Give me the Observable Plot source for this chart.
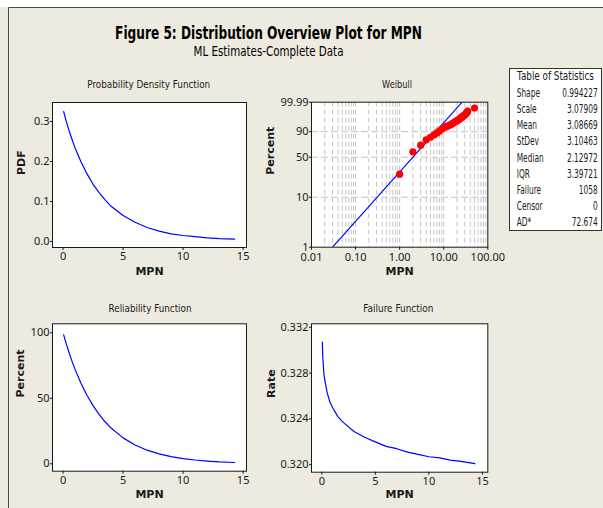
<!DOCTYPE html>
<html><head><meta charset="utf-8">
<script src="https://cdn.jsdelivr.net/npm/d3@7"></script>
<script src="https://cdn.jsdelivr.net/npm/@observablehq/plot@0.6"></script>
<style>
html,body{margin:0;padding:0;background:#fff;}
#wrap{position:relative;width:603px;height:508px;overflow:hidden;background:#EDEAE0;}
#wrap svg{position:absolute;}
</style></head><body><div id="wrap"></div>
<script>
// ---------- data ----------
const mpnGrid = [0.05,0.25,0.5,0.75,1,1.5,2,2.5,3,3.5,4,5,6,7,8,9,10,11,12,13,14.3];
const pdfValues = [0.325,0.302,0.277,0.255,0.234,0.199,0.169,0.143,0.122,0.104,0.088,0.065,0.048,0.035,0.026,0.019,0.015,0.012,0.009,0.007,0.006];
const reliabilityValues = [98.4,92.1,84.9,78.2,72.1,61.3,52.1,44.4,37.7,32.1,27.3,19.8,14.4,10.4,7.6,5.5,4.0,2.9,2.1,1.5,1.0];
const failureMPN = [0.05,0.1,0.2,0.3,0.5,0.75,1,1.5,2,3,4,5,6,7,8,9,10,11,12,13,14.3];
const failureRate = [0.3307,0.3293,0.3279,0.3273,0.3263,0.3255,0.3250,0.3242,0.3237,0.3229,0.3224,0.3220,0.3216,0.3214,0.3211,0.3209,0.3207,0.3206,0.3204,0.3203,0.3201];
const weibullMPN = [1,2,3,4,5,6,7,8,9,10,11,12,13,14,15,16,17,18,19,20,21,22,23,24,25,26,27,28,29,30,31,32,33,34,35,50];
const weibullPercent = [26.8,59.1,70.4,79.1,83.0,86.2,88.6,90.8,92.4,93.9,94.4,94.9,95.4,95.8,96.3,96.7,97.1,97.4,97.7,97.9,98.1,98.3,98.5,98.7,98.85,99.01,99.1,99.2,99.3,99.37,99.45,99.55,99.62,99.7,99.76,99.91];
const fitLineMPN = [0.03, 26.1];
const fitLinePercent = [1, 99.99];
const weibullTicks = [1, 10, 50, 90, 99.99];
const weibullTickLabels = ["1","10","50","90","99.99"];
const weibullXTicks = [0.01, 0.1, 1, 10, 100];
const weibullGridPercent = [10, 50, 90];
const pdfTicks = [0, 0.1, 0.2, 0.3];
const reliabilityTicks = [0, 50, 100];
const rateTicks = [0.320, 0.324, 0.328, 0.332];
const mpnTicks = [0, 5, 10, 15];
const statLabels = ["Shape","Scale","Mean","StDev","Median","IQR","Failure","Censor","AD*"];
const statValues = ["0.994227","3.07909","3.08669","3.10463","2.12972","3.39721","1058","0","72.674"];

const title = "Figure 5: Distribution Overview Plot for MPN";
const subtitle = "ML Estimates-Complete Data";
const panelTitles = ["Probability Density Function","Weibull","Reliability Function","Failure Function"];

// ---------- tables ----------
const pdfData = mpnGrid.map((x,i)=>({x, y: pdfValues[i]}));
const relData = mpnGrid.map((x,i)=>({x, y: reliabilityValues[i]}));
const failData = failureMPN.map((x,i)=>({x, y: failureRate[i]}));
const wb = p => Math.log(-Math.log(1 - p/100));
const wbPoints = weibullMPN.map((x,i)=>({x, y: wb(weibullPercent[i])}));
const wbLine = fitLineMPN.map((x,i)=>({x, y: wb(fitLinePercent[i])}));
const gridX = [];
for (const e of [-2,-1,0,1]) for (let m=1;m<=9;m++) { const v = m*Math.pow(10,e); if (v>0.0100001) gridX.push(v); }

const wrap = document.getElementById("wrap");
const BLUE = "#0000ff", INK = "#1a1a1a";
const baseStyle = {background:"transparent", fontFamily:"'Noto Sans', sans-serif", fontSize:"11px", color:INK, overflow:"visible"};

function place(el, left, top){ el.style.left = left+"px"; el.style.top = top+"px"; wrap.appendChild(el); }
function xLabel(dy){ return Plot.text(["MPN"], {frameAnchor:"bottom", dy, fontWeight:"bold", fontFamily:"DejaVu Sans", fontSize:11, fill:INK}); }
function yLabel(txt, dx){ return Plot.text([txt], {frameAnchor:"left", dx, rotate:-90, fontWeight:"bold", fontFamily:"DejaVu Sans", fontSize:11, fill:INK}); }

// ---------- overlay: border, titles, table ----------
const over = d3.select(wrap).append("svg").attr("width",603).attr("height",508).style("left","0px").style("top","0px");
over.append("rect").attr("width",603).attr("height",7).attr("fill","#fff");
over.append("path").attr("d","M8.5,508V7.5H603").attr("fill","none").attr("stroke","#4a4a4a");

function fitText(str, x, y, opts){
  const t = over.append("text").text(str)
    .attr("text-anchor", opts.anchor || "middle")
    .attr("font-family", opts.family || "DejaVu Sans")
    .attr("font-size", opts.size)
    .attr("font-weight", opts.weight || "normal")
    .attr("fill", opts.fill || INK);
  const w = t.node().getComputedTextLength();
  const s = opts.width ? opts.width / w : (opts.scale || 1);
  t.attr("transform", `translate(${x},${y}) scale(${s},1)`);
  return s;
}
fitText(title, 268.5, 38.5, {size:17.5, weight:"bold", width:307, fill:"#000"});
fitText(subtitle, 268.5, 56, {size:13.5, width:150, fill:"#000"});
fitText(panelTitles[0], 148.7, 87.5, {size:11, width:123});
fitText(panelTitles[1], 397, 87.5, {size:11, width:30});
fitText(panelTitles[2], 150, 311.5, {size:11, width:83});
fitText(panelTitles[3], 398.3, 311.5, {size:11, width:70});

// statistics table
over.append("rect").attr("x",509.5).attr("y",68.5).attr("width",92).attr("height",162).attr("fill","#fff").attr("stroke","#333");
fitText("Table of Statistics", 555.5, 80, {size:11.5, width:77});
const probe = over.append("text").attr("font-family","DejaVu Sans").attr("font-size",11.5).text("Shape");
const sc = 23.3 / probe.node().getComputedTextLength(); probe.remove();
statLabels.forEach((lab,i)=>{
  const y = 96.8 + i*16.2;
  fitText(lab, 516.7, y, {size:11.5, anchor:"start", scale:sc});
  fitText(statValues[i], 597.7, y, {size:11.5, anchor:"end", scale:sc});
});

// ---------- PDF panel ----------
place(Plot.plot({
  width:260, height:230, marginLeft:52, marginRight:14, marginTop:32, marginBottom:53,
  style: baseStyle,
  x:{domain:[-0.88,15.28]}, y:{domain:[-0.015,0.3475]},
  marks:[
    Plot.frame({fill:"white", stroke:"none"}),
    Plot.line(pdfData, {x:"x", y:"y", stroke:BLUE, strokeWidth:1.2}),
    Plot.frame({stroke:INK}),
    Plot.axisX({ticks:mpnTicks, tickSize:3, tickPadding:2, label:null}),
    Plot.axisY({ticks:pdfTicks, tickFormat:".1f", tickSize:2, tickPadding:1, label:null}),
    xLabel(27.5), yLabel("PDF", -31)
  ]
}), 0, 70);

// ---------- Weibull probability plot ----------
place(Plot.plot({
  width:250, height:230, marginLeft:56, marginRight:17.7, marginTop:31.7, marginBottom:53.3,
  style: baseStyle,
  x:{type:"log", domain:[0.01,100]}, y:{domain:[wb(1), wb(99.99)]},
  marks:[
    Plot.frame({fill:"white", stroke:"none"}),
    Plot.ruleX(gridX, {stroke:"#c4c4c4", strokeDasharray:"5,3"}),
    Plot.ruleY(weibullGridPercent.map(wb), {stroke:"#c4c4c4", strokeDasharray:"7,3"}),
    Plot.line(wbLine, {x:"x", y:"y", stroke:BLUE, strokeWidth:1.1, clip:true}),
    Plot.dot(wbPoints, {x:"x", y:"y", r:3.6, fill:"#ff0000", stroke:"none"}),
    Plot.frame({stroke:INK}),
    Plot.axisX({ticks:weibullXTicks, tickFormat:".2f", tickSize:3, tickPadding:3, label:null}),
    Plot.axisY({ticks:weibullTicks.map(wb), tickFormat: d => weibullTickLabels[d3.minIndex(weibullTicks, p => Math.abs(wb(p)-d))], tickSize:2, tickPadding:1, label:null}),
    xLabel(27.5), yLabel("Percent", -41)
  ]
}), 255, 70);

// ---------- Reliability panel ----------
place(Plot.plot({
  width:260, height:213, marginLeft:52, marginRight:14, marginTop:28.3, marginBottom:37.3,
  style: baseStyle,
  x:{domain:[-0.88,15.28]}, y:{domain:[-5.65,106.9]},
  marks:[
    Plot.frame({fill:"white", stroke:"none"}),
    Plot.line(relData, {x:"x", y:"y", stroke:BLUE, strokeWidth:1.2}),
    Plot.frame({stroke:INK}),
    Plot.axisX({ticks:mpnTicks, tickSize:3, tickPadding:2, label:null}),
    Plot.axisY({ticks:reliabilityTicks, tickSize:2, tickPadding:1, label:null}),
    xLabel(26.5), yLabel("Percent", -32)
  ]
}), 0, 295);

// ---------- Failure (hazard) panel ----------
place(Plot.plot({
  width:250, height:213, marginLeft:56, marginRight:17.7, marginTop:28.3, marginBottom:36.3,
  style: baseStyle,
  x:{domain:[-0.96,15.5]}, y:{domain:[0.31935,0.3323]},
  marks:[
    Plot.frame({fill:"white", stroke:"none"}),
    Plot.line(failData, {x:"x", y:"y", stroke:BLUE, strokeWidth:1.2}),
    Plot.frame({stroke:INK}),
    Plot.axisX({ticks:mpnTicks, tickSize:3, tickPadding:2, label:null}),
    Plot.axisY({ticks:rateTicks, tickFormat:".3f", tickSize:2, tickPadding:1, label:null}),
    xLabel(25.5), yLabel("Rate", -40)
  ]
}), 255, 295);
</script></body></html>
